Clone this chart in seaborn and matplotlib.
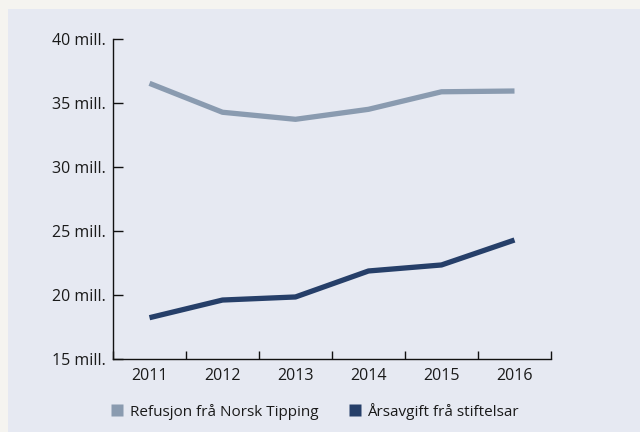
import numpy as np
import pandas as pd
import seaborn as sns
import matplotlib.pyplot as plt
from matplotlib.lines import Line2D
from matplotlib.patches import Rectangle

# --- Data ---
years = ['2011', '2012', '2013', '2014', '2015', '2016']
refusjon = [36.56, 34.3, 33.75, 34.53, 35.9, 35.96]
arsavgift = [18.25, 19.63, 19.87, 21.9, 22.37, 24.32]
series_names = ['Refusjon frå Norsk Tipping', 'Årsavgift frå stiftelsar']
y_ticks = [15, 20, 25, 30, 35, 40]

COLORS = ['#8a9bb0', '#263f69']
PANEL = '#e6e9f2'
OUTER = '#f5f4f0'

df = pd.DataFrame({
    'year': years * 2,
    'x': list(range(len(years))) * 2,
    'value': refusjon + arsavgift,
    'series': [series_names[0]] * len(years) + [series_names[1]] * len(years),
})

sns.set_style('white')
plt.rcParams['font.family'] = ['Open Sans', 'DejaVu Sans']

fig = plt.figure(figsize=(6.4, 4.32), dpi=100)
fig.patch.set_facecolor(OUTER)
# inner panel, drawn behind the axes
fig.patches.append(Rectangle((8 / 640, 0), 1, 1 - 9 / 432, transform=fig.transFigure,
                             facecolor=PANEL, edgecolor='none', zorder=-10))

ax = fig.add_axes([113 / 640, 1 - 359.3 / 432, (551 - 113) / 640, (359.3 - 39.3) / 432])
ax.set_zorder(2)
ax.set_facecolor('none')

sns.lineplot(data=df, x='x', y='value', hue='series', palette=COLORS,
             linewidth=3.8, ax=ax, legend=False, solid_capstyle='butt')

ax.set_xlim(-0.5, len(years) - 0.5)
ax.set_ylim(15, 40)
ax.set_yticks(y_ticks)
ax.set_yticklabels([f'{v} mill.' for v in y_ticks])

# ticks at category boundaries, labels at centres
ax.set_xticks(np.arange(-0.5, len(years), 1.0))
ax.set_xticklabels([])
ax.set_xticks(np.arange(len(years)), minor=True)
ax.set_xticklabels(years, minor=True)
ax.tick_params(axis='x', which='major', bottom=True, direction='in', length=6, width=1,
               color='#111111')
ax.tick_params(axis='x', which='minor', bottom=True, length=0, pad=6, labelsize=11.5,
               labelcolor='#1a1a1a')
ax.tick_params(axis='y', left=True, direction='in', length=7.5, width=1, color='#111111',
               pad=5, labelsize=11.5, labelcolor='#1a1a1a')

for side in ['top', 'right']:
    ax.spines[side].set_visible(False)
for side in ['left', 'bottom']:
    ax.spines[side].set_color('#111111')
    ax.spines[side].set_linewidth(1)

ax.set_xlabel('')
ax.set_ylabel('')

handles = [Line2D([], [], linestyle='none', marker='s', markersize=9,
                  markerfacecolor=c, markeredgecolor='none') for c in COLORS]
fig.legend(handles, series_names, loc='center left', bbox_to_anchor=(96 / 640, 1 - 411 / 432),
           ncol=2, frameon=False, fontsize=11, handletextpad=0.3, columnspacing=1.9,
           handlelength=1.0, labelcolor='#1a1a1a')

plt.savefig('out.png', dpi=100, facecolor=fig.get_facecolor())
